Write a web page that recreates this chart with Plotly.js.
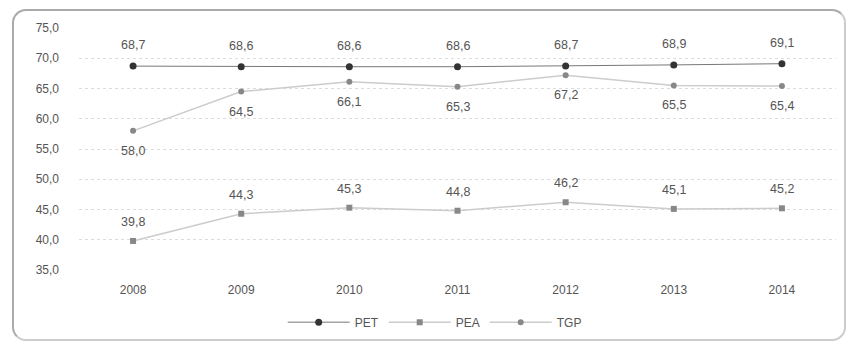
<!DOCTYPE html>
<html><head><meta charset="utf-8">
<script src="https://cdn.plot.ly/plotly-3.0.1.min.js"></script>
<style>
html,body{margin:0;padding:0;background:#fff;}
#wrap{position:relative;width:849px;height:342px;}
#chart{position:absolute;left:0;top:0;width:849px;height:342px;}
#frame{position:absolute;left:12px;top:9px;width:830px;height:328px;border:2px solid #aaa;border-right-color:#ccc;border-bottom-color:#ccc;border-radius:14px;pointer-events:none;}
</style>
</head><body>
<div id="wrap"><div id="chart"></div><div id="frame"></div></div>
<script>
const years = ['2008','2009','2010','2011','2012','2013','2014'];
const pet = [68.7, 68.6, 68.6, 68.6, 68.7, 68.9, 69.1];
const pea = [39.8, 44.3, 45.3, 44.8, 46.2, 45.1, 45.2];
const tgp = [58.0, 64.5, 66.1, 65.3, 67.2, 65.5, 65.4];
const yTicks = [35, 40, 45, 50, 55, 60, 65, 70, 75];

const fmt = v => v.toFixed(1).replace('.', ',');
const font = {family: 'Liberation Sans, Arial, sans-serif', size: 12, color: '#555'};

const traces = [
  {x: years, y: pet, name: 'PET', mode: 'lines+markers', type: 'scatter',
   line: {color: '#777', width: 1}, marker: {symbol: 'circle', size: 7, color: '#333'}},
  {x: years, y: pea, name: 'PEA', mode: 'lines+markers', type: 'scatter',
   line: {color: '#ccc', width: 1.5}, marker: {symbol: 'square', size: 6, color: '#888'}},
  {x: years, y: tgp, name: 'TGP', mode: 'lines+markers', type: 'scatter',
   line: {color: '#ccc', width: 1.5}, marker: {symbol: 'circle', size: 6, color: '#888'}}
];

const annotations = [];
function addLabels(arr, shift) {
  arr.forEach((v, i) => annotations.push({
    x: i, y: v, xref: 'x', yref: 'y', text: fmt(v), showarrow: false, yshift: shift,
    font: {family: font.family, size: 12.5, color: '#555'}
  }));
}
addLabels(pet, 21);
addLabels(pea, 19);
addLabels(tgp, -20);

const layout = {
  width: 849, height: 342,
  margin: {l: 79, r: 13, t: 28, b: 72, autoexpand: false},
  paper_bgcolor: '#fff', plot_bgcolor: '#fff',
  separators: ',.',
  font: font,
  showlegend: true,
  legend: {orientation: 'h', xref: 'container', yref: 'container', x: 0.512, xanchor: 'center',
           y: 0.058, yanchor: 'middle',
           font: {family: font.family, size: 12, color: '#555'}, itemwidth: 62},
  xaxis: {type: 'category', range: [-0.5, years.length - 0.5], autorange: false, automargin: false,
          showgrid: false, zeroline: false, showline: false,
          ticks: '', tickfont: {size: 12, color: '#555'}, ticklabelstandoff: 11},
  yaxis: {range: [35, 75], autorange: false, automargin: false, tickvals: yTicks, tickformat: '.1f', showgrid: true,
          gridcolor: '#ddd', griddash: 'dot', zeroline: false, showline: false,
          ticks: '', tickfont: {size: 12, color: '#555'}, ticklabelstandoff: 19},
  annotations: annotations
};
Plotly.newPlot('chart', traces, layout, {displayModeBar: false, staticPlot: true});
</script>
</body></html>
